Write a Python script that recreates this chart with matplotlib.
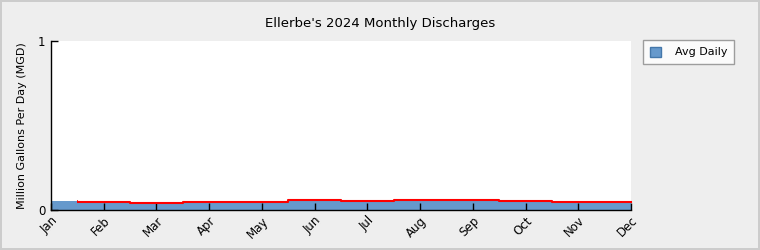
import numpy as np
import matplotlib
matplotlib.use("Agg")
import matplotlib.pyplot as plt
from matplotlib.patches import Patch, Rectangle

# monthly average daily discharge (MGD)
months = ['Jan', 'Feb', 'Mar', 'Apr', 'May', 'Jun',
          'Jul', 'Aug', 'Sep', 'Oct', 'Nov', 'Dec']
avg_daily = [0.053, 0.046, 0.040, 0.046, 0.046, 0.057,
             0.051, 0.057, 0.057, 0.051, 0.046, 0.046]

fig = plt.figure(figsize=(7.6, 2.5), dpi=100)
fig.patch.set_facecolor('#eeeeee')
fig.patch.set_edgecolor('#cccccc')
fig.patch.set_linewidth(1.5)

ax = fig.add_axes([51 / 760, 40 / 250, 580 / 760, 169 / 250])
ax.set_facecolor('white')

x = np.arange(len(months))
ax.fill_between(x, avg_daily, 0, step='mid', color='#6699cc', linewidth=0)

# red outline on top, starting halfway into January
line, = ax.step(x, avg_daily, where='mid', color='#ff0000', linewidth=1.5)
line.set_clip_path(Rectangle((0.5, 0), len(months), 1, transform=ax.transData))

ax.set_xlim(0, len(months) - 1)
ax.set_ylim(0, 1)
ax.set_xticks(x)
ax.set_xticklabels(months, rotation=45, ha='right', va='top',
                   rotation_mode='anchor', fontsize=8.5)
ax.set_yticks([0, 1])
ax.set_yticklabels(['0', '1'], fontsize=8.5)
ax.tick_params(direction='in', length=5, width=1, pad=4)
ax.tick_params(axis='x', pad=3)

for side in ['top', 'right']:
    ax.spines[side].set_visible(False)
for side in ['left', 'bottom']:
    ax.spines[side].set_color('black')
    ax.spines[side].set_linewidth(1)

ax.set_ylabel('Million Gallons Per Day (MGD)', fontsize=8, labelpad=8)
fig.text(0.5, 1 - 24 / 250, "Ellerbe's 2024 Monthly Discharges",
         ha='center', va='center', fontsize=9.5)

handles = [Patch(facecolor='#6699cc', edgecolor='#4477aa', label='Avg Daily')]
leg = fig.legend(handles=handles, loc='upper left',
                 bbox_to_anchor=(643 / 760, 1 - 40 / 250),
                 borderaxespad=0, fontsize=8, frameon=True, fancybox=False,
                 handlelength=1.0, handleheight=1.0, borderpad=0.6,
                 handletextpad=1.3)
leg.get_frame().set_edgecolor('#888888')
leg.get_frame().set_linewidth(1)
leg.get_frame().set_facecolor('white')

fig.savefig('out.png', dpi=100, facecolor=fig.get_facecolor(), edgecolor=fig.get_edgecolor())
